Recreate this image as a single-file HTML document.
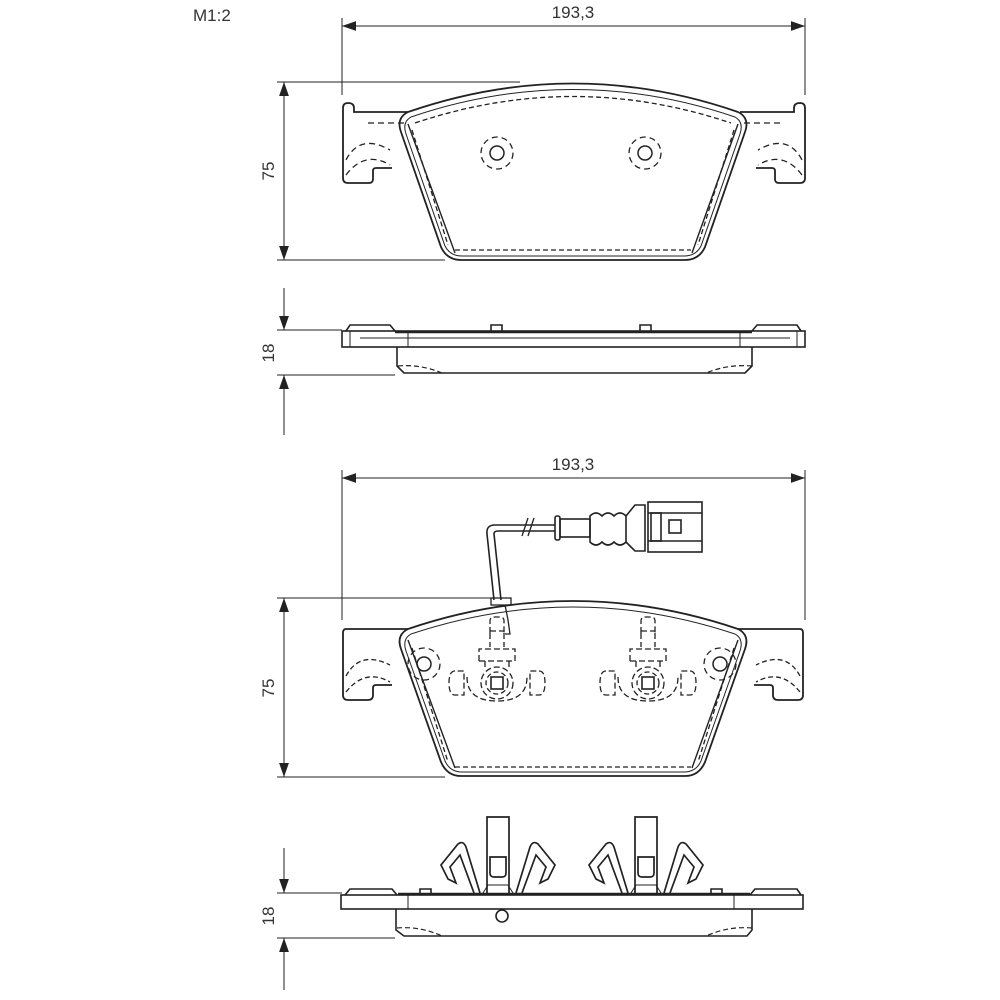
<!DOCTYPE html>
<html><head><meta charset="utf-8"><style>
html,body{margin:0;padding:0;background:#fff;width:1000px;height:1000px;overflow:hidden}
svg{display:block}
text{font-family:"Liberation Sans",Arial,sans-serif;fill:#333;font-size:17px}
</style></head><body>
<svg width="1000" height="1000" viewBox="0 0 1000 1000" xmlns="http://www.w3.org/2000/svg">
<defs>
<marker id="ar" viewBox="0 0 10 10" refX="10" refY="5" markerWidth="14" markerHeight="14" markerUnits="userSpaceOnUse" orient="auto-start-reverse"><path d="M0,1.5 L10,5 L0,8.5 z" fill="#222"/></marker>
<g id="earL">
<path d="M348,183 Q343,183 343,178 L343,108 Q343,103 348,103 Q354,103 354,108 L354,112 L408,112 M348,183 L369,183 Q373,183 373,179 L373,171 Q373,168 376,168 L392,168" fill="none" stroke="#222" stroke-width="1.8"/>
<path d="M368,123 L408,123 M346,160 Q360,133 390,150 M346,175 Q365,150 390,165" fill="none" stroke="#222" stroke-width="1.3" stroke-dasharray="6,4"/>
</g>
<g id="hole"><circle r="16" fill="none" stroke="#222" stroke-width="1.3" stroke-dasharray="6,4"/><circle r="7" fill="none" stroke="#222" stroke-width="1.5"/></g>
<g id="clipTop">
<path d="M-7,-50 L-7,-62 Q-7,-66 -3,-66 L3,-66 Q7,-66 7,-62 L7,-50 M-7,-52 L7,-52 M-7,-50 L-7,-36 M7,-50 L7,-36 M-18,-22 L-18,-34 L18,-34 L18,-22 M-18,-22 L18,-22 M-12,-22 L-12,-16 M12,-22 L12,-16 M-42,-12 Q-48,-12 -48,0 Q-48,12 -42,12 L-33,12 L-33,-12 z M42,-12 Q48,-12 48,0 Q48,12 42,12 L33,12 L33,-12 z" fill="none" stroke="#222" stroke-width="1.3" stroke-dasharray="6,3"/>
<path d="M-30,-6 Q-30,18 0,18 Q30,18 30,-6" fill="none" stroke="#222" stroke-width="1.3" stroke-dasharray="6,3"/>
<circle r="16" fill="none" stroke="#222" stroke-width="1.3" stroke-dasharray="6,3"/>
<circle r="11" fill="none" stroke="#222" stroke-width="1.3" stroke-dasharray="5,3"/>
<rect x="-6" y="-6" width="12" height="12" fill="none" stroke="#222" stroke-width="1.6"/>
</g>
<g id="clipSide" fill="none" stroke="#222" stroke-width="1.7">
<path d="M-11,76 L-11,0 L11,0 L11,76"/>
<path d="M-8,40 L-8,56 Q-8,60 -4,60 L4,60 Q8,60 8,56 L8,40 z"/>
<path d="M-18,76 L-32,30 Q-35,23 -40,27 L-57,48 L-50,62 L-42,66 L-48,50 L-38,38 L-24,76"/>
<path d="M18,76 L32,30 Q35,23 40,27 L57,48 L50,62 L42,66 L48,50 L38,38 L24,76"/>
<path d="M-15,76 L-10,68 L10,68 L15,76" stroke-width="1"/>
</g>
</defs>
<g stroke="#222" stroke-width="1" fill="none">
<line x1="342" y1="18" x2="342" y2="95"/><line x1="805" y1="18" x2="805" y2="95"/>
<line x1="342" y1="26" x2="805" y2="26" marker-start="url(#ar)" marker-end="url(#ar)"/>
<line x1="277" y1="82" x2="520" y2="82"/><line x1="277" y1="260" x2="445" y2="260"/>
<line x1="284" y1="82" x2="284" y2="260" marker-start="url(#ar)" marker-end="url(#ar)"/>
<line x1="277" y1="330" x2="342" y2="330"/><line x1="277" y1="375" x2="395" y2="375"/>
<line x1="284" y1="288" x2="284" y2="330" marker-end="url(#ar)"/>
<line x1="284" y1="435" x2="284" y2="375" marker-end="url(#ar)"/>
<line x1="342" y1="470" x2="342" y2="620"/><line x1="805" y1="470" x2="805" y2="620"/>
<line x1="342" y1="478" x2="805" y2="478" marker-start="url(#ar)" marker-end="url(#ar)"/>
<line x1="277" y1="598" x2="500" y2="598"/><line x1="277" y1="777" x2="445" y2="777"/>
<line x1="284" y1="598" x2="284" y2="777" marker-start="url(#ar)" marker-end="url(#ar)"/>
<line x1="277" y1="893" x2="342" y2="893"/><line x1="277" y1="938" x2="395" y2="938"/>
<line x1="284" y1="848" x2="284" y2="893" marker-end="url(#ar)"/>
<line x1="284" y1="990" x2="284" y2="938" marker-end="url(#ar)"/>
</g>
<text x="193" y="21">M1:2</text>
<text x="573" y="18" text-anchor="middle">193,3</text>
<text x="573" y="470" text-anchor="middle">193,3</text>
<text transform="translate(274,171) rotate(-90)" text-anchor="middle">75</text>
<text transform="translate(274,353) rotate(-90)" text-anchor="middle">18</text>
<text transform="translate(274,688) rotate(-90)" text-anchor="middle">75</text>
<text transform="translate(274,916) rotate(-90)" text-anchor="middle">18</text>

<use href="#earL"/>
<use href="#earL" transform="translate(1148,0) scale(-1,1)"/>
<g fill="none" stroke="#222" stroke-width="1.8">
<path d="M408,112 Q573,55 738,112 Q750,118 745,132 L705,247 Q699,260 685,260 L461,260 Q447,260 441,247 L401,132 Q396,118 408,112 z"/>
<path d="M411,117 Q573,62 735,117 Q744,122 740,134 L701,246 Q696,256 684,256 L462,256 Q450,256 445,246 L406,134 Q402,122 411,117 z" stroke-width="1"/>
<path d="M408,124 L455,253 M738,124 L692,253" stroke-width="1.4"/>
</g>
<path d="M415,123 Q573,70 731,123 M455,250 L691,250 M412,130 L448,245 M734,130 L698,245" fill="none" stroke="#222" stroke-width="1.3" stroke-dasharray="5,3"/>
<use href="#hole" transform="translate(497,153)"/>
<use href="#hole" transform="translate(645,153)"/>

<g fill="none" stroke="#222" stroke-width="1.6">
<rect x="342" y="331" width="463" height="16"/>
<path d="M346,331 L350,325 L390,325 L395,331 M752,331 L757,325 L797,325 L801,331"/>
<path d="M491,331 L491,325 L502,325 L502,331 M640,331 L640,325 L651,325 L651,331"/>
<line x1="395" y1="332" x2="752" y2="332" stroke-width="2.4"/>
<path d="M397,347 L397,366 L404,373 L745,373 L752,366 L752,347"/>
<path d="M360,338 L790,338 M408,331 L408,347 M740,331 L740,347 M350,331 L350,347 M797,331 L797,347" stroke-width="1"/>
</g>
<path d="M398,366 Q420,364 442,373 M752,366 Q728,364 706,373" fill="none" stroke="#222" stroke-width="1.2" stroke-dasharray="5,3"/>

<g fill="none" stroke="#222" stroke-width="1.6">
<path d="M494,600 L487,534 Q486,525 495,525 L555,525 M501,600 L494,534 Q494,531 498,531 L555,531"/>
<path d="M522,536 L528,518 M528,536 L534,518" stroke-width="1.3"/>
<rect x="555" y="516" width="5" height="24" rx="2"/>
<rect x="560" y="519" width="30" height="18"/>
<path d="M590,516 Q596,510 602,516 Q608,510 614,516 Q620,510 626,516 L626,542 Q620,548 614,542 Q608,548 602,542 Q596,548 590,542 z"/>
<path d="M626,516 L635,505 L645,505 L645,551 L635,551 L626,542"/>
<rect x="648" y="502" width="54" height="50"/>
<line x1="648" y1="513" x2="702" y2="513"/><line x1="648" y1="541" x2="702" y2="541"/>
<rect x="651" y="513" width="10" height="28"/>
<rect x="669" y="520" width="12" height="13"/>
</g>

<g fill="none" stroke="#222" stroke-width="1.8">
<path d="M408,629 L346,629 Q343,629 343,633 L343,695 Q343,700 348,700 L368,700 Q373,700 373,695 L373,688 Q373,685 376,685 L392,685"/>
<path d="M738,629 L800,629 Q803,629 803,633 L803,695 Q803,700 798,700 L778,700 Q773,700 773,695 L773,688 Q773,685 770,685 L754,685"/>
<path d="M408,629 Q573,573 738,629 Q750,635 745,649 L705,762 Q699,776 685,776 L461,776 Q447,776 441,762 L401,649 Q396,635 408,629 z"/>
<path d="M411,634 Q573,580 735,634 Q744,639 740,651 L701,761 Q696,772 684,772 L462,772 Q450,772 445,761 L406,651 Q402,639 411,634 z" stroke-width="1"/>
<path d="M408,640 L455,768 M738,640 L692,768" stroke-width="1.4"/>
<rect x="491" y="598" width="20" height="7" stroke-width="1.3"/>
</g>
<path d="M455,767 L691,767 M412,648 L448,762 M734,648 L698,762 M346,676 Q360,650 390,665 M346,692 Q365,668 390,682 M800,676 Q786,650 756,665 M800,692 Q781,668 756,682" fill="none" stroke="#222" stroke-width="1.3" stroke-dasharray="5,3"/>
<use href="#hole" transform="translate(424,664)"/>
<use href="#hole" transform="translate(720,664)"/>
<use href="#clipTop" transform="translate(497,683)"/>
<use href="#clipTop" transform="translate(648,683)"/>
<path d="M505,605 L508,620 L510,634 L505,634" fill="none" stroke="#222" stroke-width="1.3"/>

<use href="#clipSide" transform="translate(498,817)"/>
<use href="#clipSide" transform="translate(646,817)"/>
<g fill="none" stroke="#222" stroke-width="1.6">
<rect x="341" y="895" width="462" height="14"/>
<path d="M345,895 L350,889 L392,889 L397,895 M750,895 L755,889 L797,889 L801,895"/>
<path d="M420,895 L420,889 L431,889 L431,895 M711,895 L711,889 L722,889 L722,895"/>
<line x1="398" y1="894" x2="750" y2="894" stroke-width="2.4"/>
<line x1="408" y1="895" x2="408" y2="909" stroke-width="1"/><line x1="734" y1="895" x2="734" y2="909" stroke-width="1"/>
<path d="M396,909 L396,930 L404,936 L747,936 L752,930 L752,909"/>
<circle cx="502" cy="916" r="6"/>
</g>
<path d="M397,928 Q420,926 442,936 M752,928 Q728,926 706,936" fill="none" stroke="#222" stroke-width="1.2" stroke-dasharray="5,3"/>
</svg>
</body></html>
